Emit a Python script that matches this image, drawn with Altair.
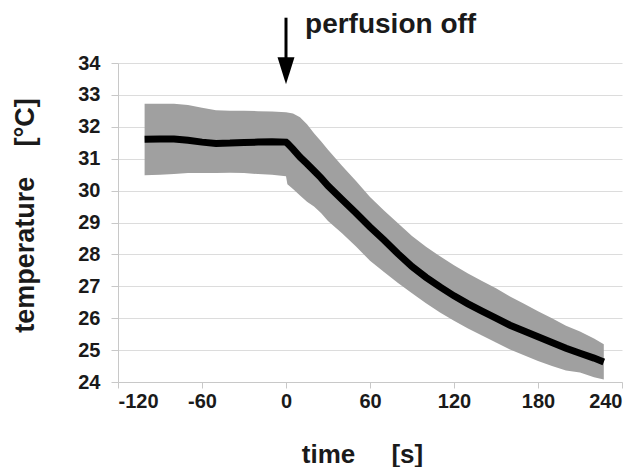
import altair as alt
import pandas as pd

# time [s]
time_s = [-101, -90, -80, -70, -60, -50, -40, -30, -20, -10, 0, 1, 5, 10, 15, 20, 25, 30, 40, 50,
          60, 70, 80, 90, 100, 110, 120, 130, 140, 150, 160, 170, 180, 190, 200, 210,
          220, 227]
# mean temperature [°C]
mean_t = [31.61, 31.62, 31.62, 31.58, 31.52, 31.48, 31.49, 31.51, 31.52, 31.53, 31.52, 31.48, 31.3,
          31.05, 30.84, 30.62, 30.4, 30.15, 29.72, 29.3, 28.86, 28.45, 28.02, 27.62,
          27.28, 26.98, 26.7, 26.45, 26.22, 26.0, 25.78, 25.6, 25.42, 25.24, 25.06,
          24.9, 24.75, 24.63]
# upper edge of band
upper_t = [32.72, 32.72, 32.72, 32.68, 32.6, 32.52, 32.5, 32.5, 32.49, 32.48, 32.46, 32.45, 32.42,
           32.3, 32.08, 31.8, 31.55, 31.28, 30.78, 30.3, 29.8, 29.38, 28.98, 28.58,
           28.24, 27.94, 27.66, 27.4, 27.17, 26.94, 26.68, 26.45, 26.22, 26.0, 25.76,
           25.58, 25.36, 25.18]
# lower edge of band
lower_t = [30.48, 30.5, 30.52, 30.55, 30.55, 30.55, 30.56, 30.55, 30.52, 30.5, 30.45, 30.2, 30.05,
           29.85, 29.65, 29.5, 29.3, 29.05, 28.66, 28.25, 27.8, 27.45, 27.1, 26.78,
           26.47, 26.18, 25.92, 25.68, 25.46, 25.24, 25.02, 24.84, 24.66, 24.5, 24.36,
           24.3, 24.15, 24.08]

x_ticks = [-120, -60, 0, 60, 120, 180, 240]
y_ticks = [24, 25, 26, 27, 28, 29, 30, 31, 32, 33, 34]

# annotation
arrow_time = [0]
arrow_top = [35.42]
arrow_shaft_end = [34.15]
arrow_head = [33.76]
note_time = [13.6]
note_y = [34.95]
note_text = ["perfusion off"]

FONT = "Liberation Sans"
INK = "#1a1a1a"
NB = "\u00a0"

df = pd.DataFrame({"t": time_s, "m": mean_t, "hi": upper_t, "lo": lower_t})
ann = pd.DataFrame({"t": arrow_time, "top": arrow_top, "end": arrow_shaft_end,
                    "head": arrow_head})
note = pd.DataFrame({"t": note_time, "y": note_y, "label": note_text})

xscale = alt.Scale(domain=[-120, 240], nice=False, zero=False)
yscale = alt.Scale(domain=[24, 34], nice=False, zero=False)

xaxis = alt.Axis(values=x_ticks, title="time" + NB * 5 + "[s]",
                 labelExpr="'' + datum.value", labelOverlap=False, tickCount=7,
                 grid=False, domainColor="#c8c8c8", tickColor="#c8c8c8", tickSize=6,
                 labelPadding=3, labelFont=FONT, labelFontSize=20, labelFontWeight="bold",
                 labelColor=INK, titleFont=FONT, titleFontSize=26, titleFontWeight="bold",
                 titleColor=INK, titleX=244, titleY=80, titleBaseline="alphabetic",
                 titleAlign="center")
yaxis = alt.Axis(values=y_ticks, tickCount=11,
                 title="temperature" + NB * 4 + "[°C]",
                 labelExpr="'' + datum.value", labelOverlap=False,
                 grid=True, gridColor="#dcdcdc", gridWidth=1, domainColor="#c8c8c8",
                 tickColor="#c8c8c8", tickSize=7, labelPadding=11, labelFont=FONT,
                 labelFontSize=20, labelFontWeight="bold", labelColor=INK,
                 titleFont=FONT, titleFontSize=27, titleFontWeight="bold", titleColor=INK,
                 titleX=-93, titleY=152, titleAngle=-90, titleBaseline="middle",
                 titleAlign="center")


def X():
    return alt.X("t:Q", scale=xscale, axis=xaxis)


def Y(field):
    return alt.Y(field, scale=yscale, axis=yaxis)


band = alt.Chart(df).mark_area(color="#a0a0a0", opacity=1).encode(
    x=X(), y=Y("hi:Q"), y2="lo:Q",
)
line = alt.Chart(df).mark_line(color="black", strokeWidth=7).encode(
    x=X(), y=Y("m:Q")
)
shaft = alt.Chart(ann).mark_rule(color="black", strokeWidth=3).encode(
    x=X(), y=Y("top:Q"), y2="end:Q"
)
head = alt.Chart(ann).mark_point(
    shape="M-0.63,-1L0.63,-1L0,1Z", size=729, filled=True, color="black", opacity=1
).encode(x=X(), y=Y("head:Q"))
text = alt.Chart(note).mark_text(
    align="left", baseline="alphabetic", font=FONT, fontSize=28, fontWeight="bold",
    color=INK
).encode(x=X(), y=Y("y:Q"), text="label:N")

chart = alt.layer(band, line, shaft, head, text).properties(
    width=504, height=319,
    autosize=alt.AutoSizeParams(type="none"),
    padding={"left": 110, "top": 55, "right": 10, "bottom": 85},
    background="white",
).configure_view(stroke=None)

chart.save("out.html", embed_options={"renderer": "svg", "actions": False})
